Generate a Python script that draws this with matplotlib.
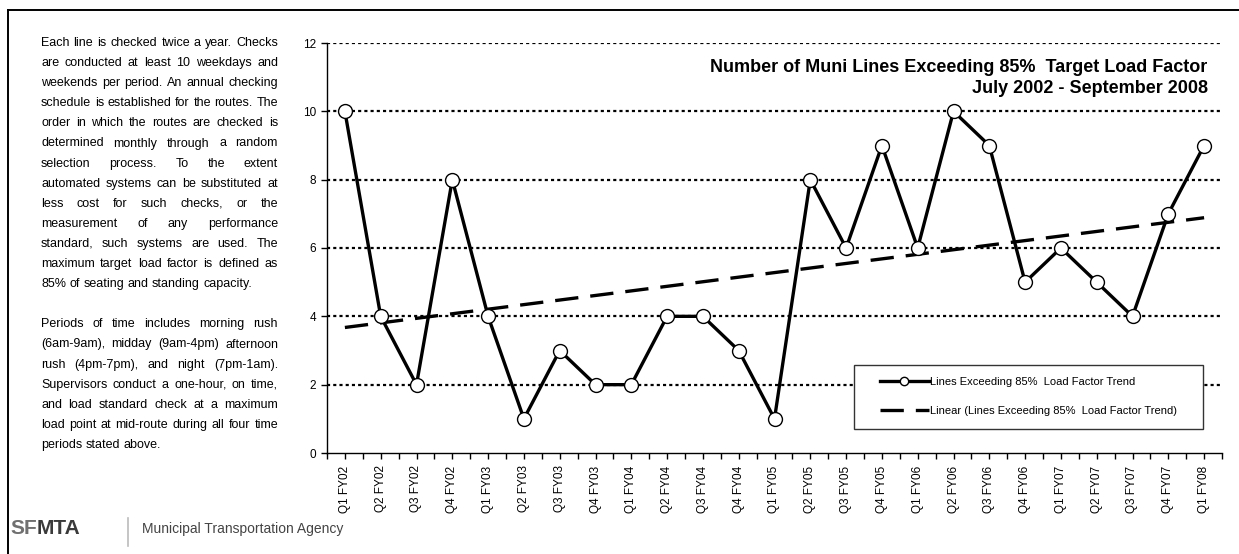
import numpy as np
import matplotlib
matplotlib.use("Agg")
import matplotlib.pyplot as plt
from matplotlib.lines import Line2D
from matplotlib.patches import Rectangle

# Quarterly counts of Muni lines over the 85% target load factor
quarters = ['Q1 FY02', 'Q2 FY02', 'Q3 FY02', 'Q4 FY02',
            'Q1 FY03', 'Q2 FY03', 'Q3 FY03', 'Q4 FY03',
            'Q1 FY04', 'Q2 FY04', 'Q3 FY04', 'Q4 FY04',
            'Q1 FY05', 'Q2 FY05', 'Q3 FY05', 'Q4 FY05',
            'Q1 FY06', 'Q2 FY06', 'Q3 FY06', 'Q4 FY06',
            'Q1 FY07', 'Q2 FY07', 'Q3 FY07', 'Q4 FY07',
            'Q1 FY08']
lines_exceeding = [10, 4, 2, 8, 4, 1, 3, 2, 2, 4, 4, 3, 1, 8, 6, 9, 6, 10, 9, 5, 6, 5, 4, 7, 9]
y_ticks = [0, 2, 4, 6, 8, 10, 12]

series_label = 'Lines Exceeding 85%  Load Factor Trend'
trend_label = 'Linear (Lines Exceeding 85%  Load Factor Trend)'
title_text = 'Number of Muni Lines Exceeding 85%  Target Load Factor\nJuly 2002 - September 2008'

para_1 = ['Each line is checked twice a year. Checks',
          'are conducted at least 10 weekdays and',
          'weekends per period.  An annual checking',
          'schedule is established for the routes.  The',
          'order in which the routes are checked is',
          'determined monthly through a random',
          'selection process.  To the extent',
          'automated systems can be substituted at',
          'less cost for such checks, or the',
          'measurement of any performance',
          'standard, such systems are used.  The',
          'maximum target load factor is defined as',
          '85% of seating and standing capacity.']
para_2 = ['Periods of time includes morning rush',
          '(6am-9am), midday (9am-4pm) afternoon',
          'rush (4pm-7pm), and night (7pm-1am).',
          'Supervisors conduct a one-hour, on time,',
          'and load standard check at a maximum',
          'load point at mid-route during all four time',
          'periods stated above.']

ARIAL = ['Liberation Sans', 'DejaVu Sans']
plt.rcParams['font.family'] = ARIAL

W, H = 1239, 554
fig = plt.figure(figsize=(W / 100, H / 100), dpi=100)
fig.patch.set_facecolor('white')

# Plot area
ax = fig.add_axes([327 / W, 1 - 453 / H, 895 / W, 410 / H])
x = np.arange(len(quarters))
vals = np.array(lines_exceeding)

# Linear trend like Excel's
coef = np.polyfit(x, vals, 1)
trend = np.polyval(coef, x)

for yv in y_ticks[1:]:
    ax.axhline(yv, color='black', lw=1.6, ls=(0, (1.4, 1.4)), zorder=1)

ax.plot(x, trend, color='black', lw=2.4, ls=(0, (7, 3.6)), zorder=2, label=trend_label)
ax.plot(x, vals, color='black', lw=2.4, marker='o', ms=10, mfc='white', mec='black',
        mew=1.0, zorder=3, label=series_label)

ax.set_xlim(-0.5, len(quarters) - 0.5)
ax.set_ylim(0, 12)
ax.set_yticks(y_ticks)
ax.set_xticks(x)
ax.set_xticklabels(quarters, rotation=90, fontsize=8.5)
ax.set_xticks(np.arange(len(quarters) + 1) - 0.5, minor=True)
ax.tick_params(axis='x', which='both', direction='out', length=4, width=1, pad=5)
ax.tick_params(axis='y', direction='out', length=4, width=1, labelsize=8.5, pad=4)
for s in ['top', 'right']:
    ax.spines[s].set_visible(False)
ax.spines['left'].set_linewidth(1)
ax.spines['bottom'].set_linewidth(1)

ax.text(0.984, 0.962, title_text, transform=ax.transAxes, ha='right', va='top',
        fontsize=13, fontweight='bold', linespacing=1.35)

# legend: own frame, legend content centred in it
box = (0.589, 0.059, 0.39, 0.156)
ax.add_patch(Rectangle(box[:2], box[2], box[3], transform=ax.transAxes, facecolor='white',
                       edgecolor='#333333', lw=1, zorder=5))
handles, labels = ax.get_legend_handles_labels()
leg = ax.legend(handles[::-1], labels[::-1], loc='center',
                bbox_to_anchor=(box[0] + box[2] / 2, box[1] + box[3] / 2),
                prop={'size': 8}, frameon=False, handlelength=4.4, handletextpad=0.15,
                labelspacing=1.7, markerscale=0.6, borderaxespad=0)
leg.set_zorder(6)

# outer border of the page
fig.add_artist(Line2D([8 / W, 8 / W], [0, 1 - 10 / H], color='black', lw=1.4,
                      transform=fig.transFigure))
fig.add_artist(Line2D([8 / W, 1], [1 - 10 / H, 1 - 10 / H], color='black', lw=1.4,
                      transform=fig.transFigure))

# justified description text on the left
renderer = fig.canvas.get_renderer()


def text_width(s, **kw):
    t = fig.text(0, 0, s, **kw)
    w = t.get_window_extent(renderer).width
    t.remove()
    return w


def justified(lines, x0, x1, y_start, step, size=9):
    space = text_width('a a', fontsize=size) - text_width('aa', fontsize=size)
    y = y_start
    for i, line in enumerate(lines):
        words = line.split()
        texts = [fig.text(0, 1 - y / H, w, fontsize=size, va='center', ha='left')
                 for w in words]
        widths = [t.get_window_extent(renderer).width for t in texts]
        if i == len(lines) - 1 or len(words) == 1:
            gap = space
        else:
            gap = (x1 - x0 - sum(widths)) / (len(words) - 1)
        xp = x0
        for t, w in zip(texts, widths):
            t.set_x(xp / W)
            xp += w + gap
        y += step


step = 20.1
justified(para_1, 41, 278, 43, step)
justified(para_2, 41, 278, 43 + step * 14, step)

# SFMTA logo strip
sf_w = text_width('SF', fontsize=15, fontweight='heavy')
fig.text(10 / W, 1 - 528 / H, 'SF', fontsize=15, fontweight='heavy', color='#707070',
         va='center', ha='left')
fig.text((10 + sf_w) / W, 1 - 528 / H, 'MTA', fontsize=15, fontweight='heavy',
         color='#3a3a3a', va='center', ha='left')
fig.add_artist(Line2D([128 / W, 128 / W], [1 - 518 / H, 1 - 546 / H], color='#bbbbbb',
                      lw=1.2, transform=fig.transFigure))
fig.text(142 / W, 1 - 529 / H, 'Municipal Transportation Agency', fontsize=10,
         color='#444444', va='center', ha='left')

fig.savefig('out.png', dpi=100)
